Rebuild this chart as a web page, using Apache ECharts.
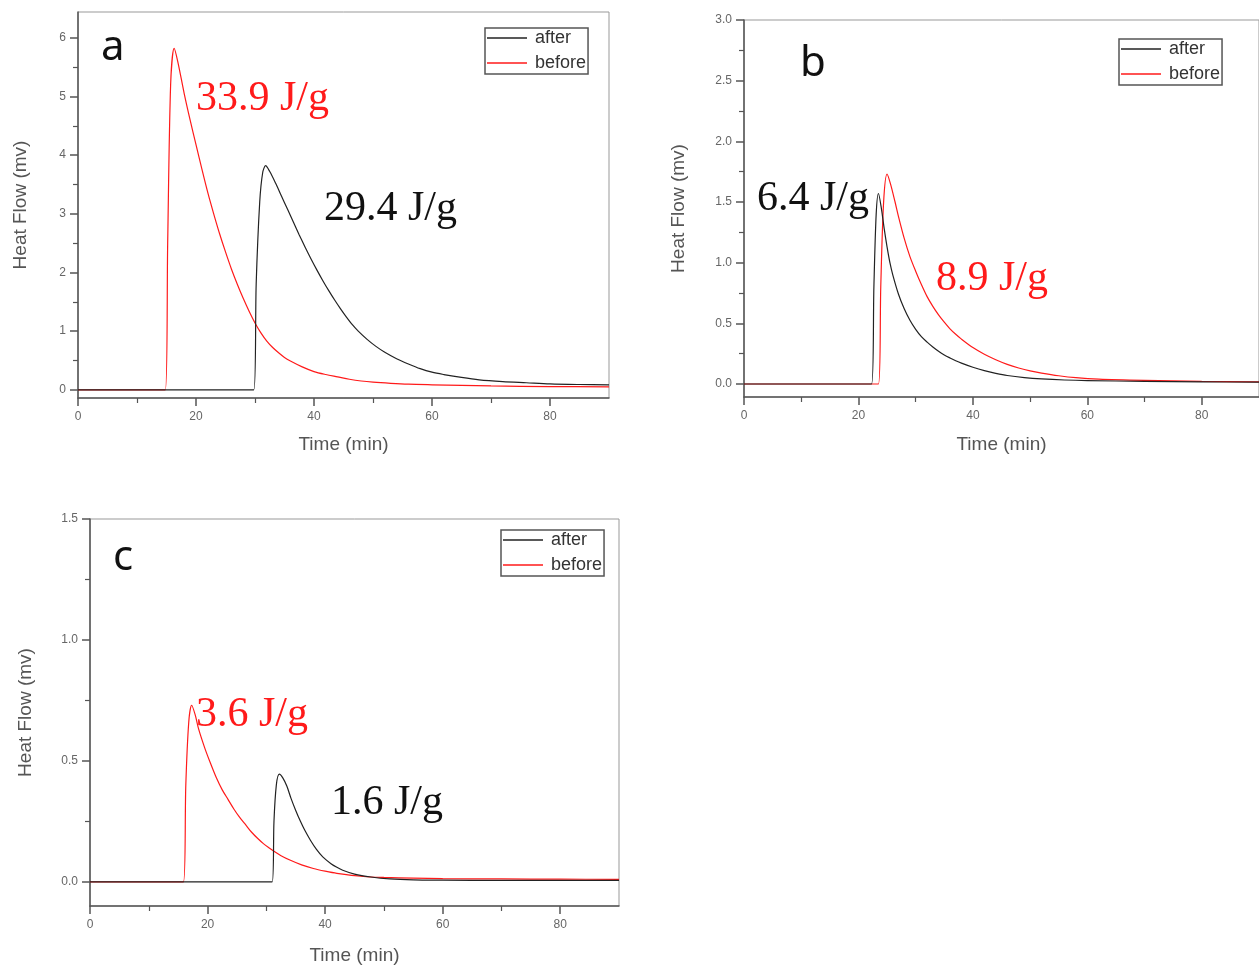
<!DOCTYPE html>
<html><head><meta charset="utf-8">
<script src="https://cdn.jsdelivr.net/npm/echarts@6/dist/echarts.min.js"></script>
<style>html,body{margin:0;padding:0;background:#fff}#c{width:1259px;height:969px}</style>
</head><body><div id="c"></div>
<script>
const seriesNames = ['after', 'before'];
const xTicks = [0, 20, 40, 60, 80];
const xMinor = [10, 30, 50, 70];
const yTicksA = [0, 1, 2, 3, 4, 5, 6];
const yMinorA = [0.5, 1.5, 2.5, 3.5, 4.5, 5.5];
const yTicksB = [0, 0.5, 1.0, 1.5, 2.0, 2.5, 3.0];
const yMinorB = [0.25, 0.75, 1.25, 1.75, 2.25, 2.75];
const yTicksC = [0, 0.5, 1.0, 1.5];
const yMinorC = [0.25, 0.75, 1.25];

// Panel a
const aAfter = [[0,0],[29.8,0],[30.2,1.8],[30.8,3.2],[31.3,3.7],[31.8,3.82],[32.5,3.72],[33.5,3.52],[34.5,3.3],[35.5,3.08],[36.5,2.86],[37.5,2.64],[38.5,2.43],[39.5,2.23],[40.5,2.04],[41.5,1.86],[42.5,1.69],[43.5,1.53],[44.5,1.38],[45.5,1.24],[46.5,1.11],[47.5,1.0],[49,0.86],[50.5,0.74],[52,0.64],[54,0.53],[56,0.44],[58,0.36],[60,0.3],[62,0.26],[65,0.21],[68,0.17],[72,0.14],[76,0.12],[80,0.1],[85,0.09],[90,0.085]];
const aBefore = [[0,0],[14.8,0],[15.2,2.5],[15.7,5.2],[16.3,5.82],[16.9,5.6],[18,5.05],[19,4.6],[20,4.18],[21,3.76],[22,3.36],[23,3.0],[24,2.66],[25,2.35],[26,2.06],[27,1.8],[28,1.56],[29,1.34],[30,1.14],[31,0.97],[32,0.83],[33,0.72],[34,0.63],[35,0.55],[36,0.49],[38,0.39],[40,0.31],[42,0.26],[44,0.22],[46,0.18],[48,0.15],[50,0.13],[53,0.11],[56,0.095],[60,0.085],[65,0.075],[70,0.065],[80,0.055],[90,0.05]];
// Panel b
const bAfter = [[0,0],[22.3,0],[22.7,0.8],[23.1,1.4],[23.5,1.57],[24,1.45],[24.5,1.28],[25,1.13],[25.5,1.0],[26,0.9],[27,0.74],[28,0.62],[29,0.525],[30,0.45],[31,0.39],[32,0.345],[33,0.305],[34,0.27],[35,0.24],[36,0.215],[37,0.192],[38,0.172],[40,0.138],[42,0.11],[44,0.088],[46,0.07],[49,0.053],[52,0.042],[56,0.033],[60,0.028],[70,0.022],[80,0.018],[90,0.015]];
const bBefore = [[0,0],[23.5,0],[23.9,0.8],[24.4,1.5],[25,1.73],[25.6,1.65],[26.4,1.5],[27,1.38],[28,1.2],[29,1.05],[30,0.93],[31,0.82],[32,0.72],[33,0.64],[34,0.57],[35,0.51],[36,0.455],[37,0.41],[38,0.37],[40,0.3],[42,0.245],[44,0.2],[46,0.162],[48,0.132],[50,0.108],[52,0.09],[55,0.068],[58,0.052],[62,0.04],[70,0.03],[80,0.022],[90,0.018]];
// Panel c
const cAfter = [[0,0],[31,0],[31.3,0.25],[31.7,0.4],[32.2,0.445],[32.8,0.43],[33.5,0.395],[34.2,0.345],[35,0.295],[35.8,0.25],[36.5,0.215],[37.5,0.172],[38.5,0.135],[39.6,0.103],[41,0.075],[42,0.06],[43,0.048],[45,0.032],[47.8,0.02],[51,0.012],[55,0.008],[60,0.007],[70,0.006],[80,0.006],[90,0.006]];
const cBefore = [[0,0],[15.9,0],[16.3,0.4],[16.8,0.66],[17.3,0.73],[17.9,0.69],[18.5,0.63],[19.5,0.555],[20.5,0.49],[21.5,0.43],[22.5,0.38],[23.5,0.34],[24.5,0.3],[25.5,0.265],[26.5,0.235],[27.5,0.205],[28.5,0.18],[29.5,0.158],[30.5,0.14],[31.5,0.123],[32.5,0.108],[34,0.09],[36,0.07],[38,0.055],[40,0.044],[42,0.035],[46.5,0.022],[50,0.018],[55,0.015],[60,0.013],[70,0.012],[80,0.011],[90,0.01]];

const energyLabels = ['33.9 J/g', '29.4 J/g', '6.4 J/g', '8.9 J/g', '3.6 J/g', '1.6 J/g'];
const panelLetters = ['a', 'b', 'c'];

const AX = '#555';
const LBL = '#666';
const RED = '#ff1a1a';
const BLK = '#222';

const panels = [
  {grid: {left: 78, top: 12, width: 531, height: 386}, ymin: -0.14, ymax: 6.44, yt: yTicksA, ym: yMinorA, fmt: v => String(v), after: aAfter, before: aBefore, yGap: 48, xGap: 37,
   legend: {left: 485, top: 28}},
  {grid: {left: 744, top: 20, width: 517, height: 377}, ymin: -0.107, ymax: 3.0, yt: yTicksB, ym: yMinorB, fmt: v => v.toFixed(1), after: bAfter, before: bBefore, yGap: 56, xGap: 38,
   legend: {left: 1119, top: 39}},
  {grid: {left: 90, top: 519, width: 529, height: 387}, ymin: -0.1, ymax: 1.5, yt: yTicksC, ym: yMinorC, fmt: v => v.toFixed(1), after: cAfter, before: cBefore, yGap: 55, xGap: 40,
   legend: {left: 501, top: 530}}
];

const grids = [], xAxes = [], yAxes = [], series = [], legends = [];
panels.forEach((p, i) => {
  grids.push(Object.assign({show: true, borderColor: '#999', borderWidth: 1, backgroundColor: 'transparent'}, p.grid));
  xAxes.push({
    type: 'value', gridIndex: i, min: 0, max: 90, position: 'bottom',
    name: 'Time (min)', nameLocation: 'middle', nameGap: p.xGap,
    nameTextStyle: {color: '#555', fontSize: 19, fontFamily: 'Liberation Sans'},
    axisLine: {show: true, onZero: false, lineStyle: {color: AX, width: 1.5}},
    axisTick: {show: true, customValues: xTicks, length: 8, lineStyle: {color: AX, width: 1.5}},
    axisLabel: {customValues: xTicks, color: LBL, fontSize: 12, margin: 13, fontFamily: 'Liberation Sans'},
    splitLine: {show: false}
  });
  xAxes.push({
    type: 'value', gridIndex: i, min: 0, max: 90, position: 'bottom',
    axisLine: {show: false, onZero: false},
    axisTick: {show: true, customValues: xMinor, length: 5, lineStyle: {color: AX, width: 1.2}},
    axisLabel: {show: false}, splitLine: {show: false}
  });
  yAxes.push({
    type: 'value', gridIndex: i, min: p.ymin, max: p.ymax, position: 'left',
    name: 'Heat Flow (mv)', nameLocation: 'middle', nameGap: p.yGap,
    nameTextStyle: {color: '#555', fontSize: 19, fontFamily: 'Liberation Sans'},
    axisLine: {show: true, onZero: false, lineStyle: {color: AX, width: 1.5}},
    axisTick: {show: true, customValues: p.yt, length: 8, lineStyle: {color: AX, width: 1.5}},
    axisLabel: {customValues: p.yt, color: LBL, fontSize: 12, margin: 12, formatter: p.fmt, fontFamily: 'Liberation Sans'},
    splitLine: {show: false}
  });
  yAxes.push({
    type: 'value', gridIndex: i, min: p.ymin, max: p.ymax, position: 'left',
    axisLine: {show: false, onZero: false},
    axisTick: {show: true, customValues: p.ym, length: 5, lineStyle: {color: AX, width: 1.2}},
    axisLabel: {show: false}, splitLine: {show: false}
  });
  series.push({name: seriesNames[1], type: 'line', xAxisIndex: 2 * i, yAxisIndex: 2 * i, data: p.before,
    symbol: 'none', smooth: 0.3, color: RED, lineStyle: {color: RED, width: 1.2}, z: 2, animation: false});
  series.push({name: seriesNames[0], type: 'line', xAxisIndex: 2 * i, yAxisIndex: 2 * i, data: p.after,
    symbol: 'none', smooth: 0.3, color: BLK, lineStyle: {color: BLK, width: 1.2}, z: 3, animation: false});
  legends.push({
    left: p.legend.left, top: p.legend.top, orient: 'vertical', data: seriesNames,
    icon: 'rect', itemWidth: 40, itemHeight: 1.6, itemGap: 7, padding: [1, 2, 2, 2],
    borderColor: '#555', borderWidth: 1.5, borderRadius: 0, backgroundColor: '#fff',
    textStyle: {color: '#333', fontSize: 18, lineHeight: 18, fontFamily: 'Liberation Sans', padding: [0, 0, 0, 3]},
    selectedMode: false
  });
});

const serif = '42px "Liberation Serif"';
const sans = '42px "Noto Sans"';
const graphics = [
  {type: 'text', left: 101, top: 27, style: {text: panelLetters[0], font: sans, fill: '#111'}},
  {type: 'text', left: 800, top: 43, style: {text: panelLetters[1], font: sans, fill: '#111'}},
  {type: 'text', left: 113, top: 537, style: {text: panelLetters[2], font: sans, fill: '#111'}},
  {type: 'text', left: 196, top: 78, style: {text: energyLabels[0], font: serif, fill: RED}},
  {type: 'text', left: 324, top: 188, style: {text: energyLabels[1], font: serif, fill: '#111'}},
  {type: 'text', left: 757, top: 178, style: {text: energyLabels[2], font: serif, fill: '#111'}},
  {type: 'text', left: 936, top: 258, style: {text: energyLabels[3], font: serif, fill: RED}},
  {type: 'text', left: 196, top: 694, style: {text: energyLabels[4], font: serif, fill: RED}},
  {type: 'text', left: 331, top: 782, style: {text: energyLabels[5], font: serif, fill: '#111'}}
];

const chart = echarts.init(document.getElementById('c'), null, {renderer: 'canvas'});
chart.setOption({
  backgroundColor: '#fff',
  animation: false,
  grid: grids, xAxis: xAxes, yAxis: yAxes, series: series, legend: legends,
  graphic: graphics
});
</script></body></html>
